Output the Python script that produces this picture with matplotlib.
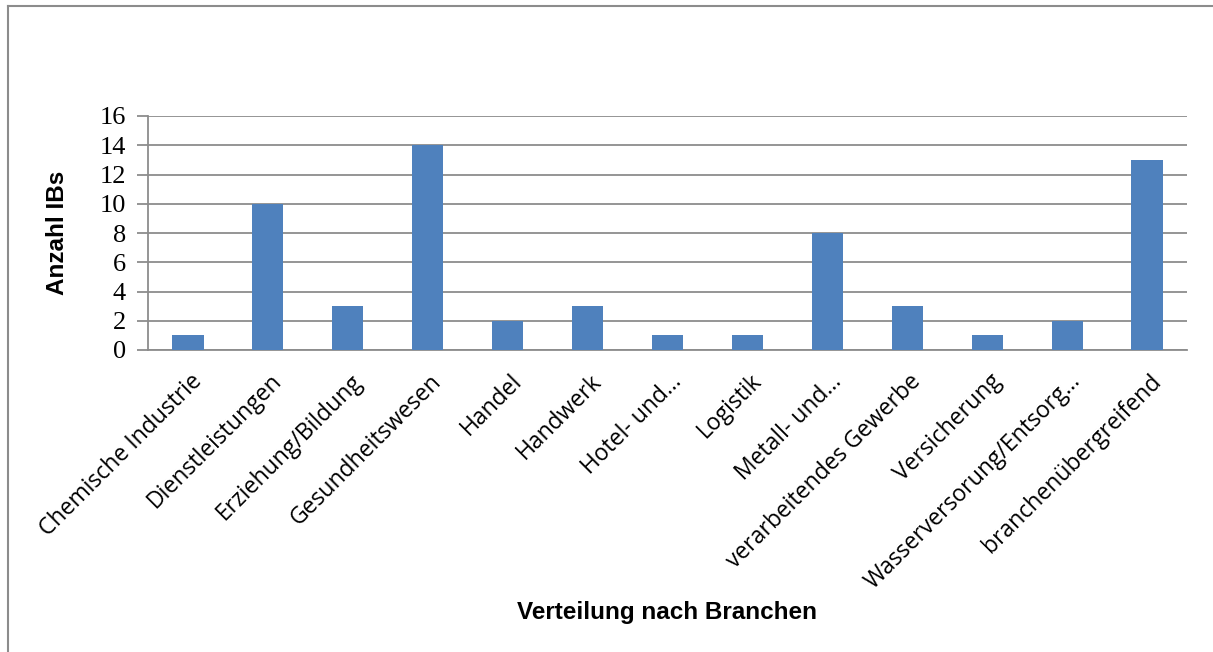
import numpy as np
import matplotlib.pyplot as plt
import matplotlib.transforms as mtransforms
from matplotlib.lines import Line2D

branchen = ['Chemische Industrie', 'Dienstleistungen', 'Erziehung/Bildung',
            'Gesundheitswesen', 'Handel', 'Handwerk', 'Hotel- und…',
            'Logistik', 'Metall- und…', 'verarbeitendes Gewerbe',
            'Versicherung', 'Wasserversorung/Entsorg…', 'branchenübergreifend']
anzahl = [1, 10, 3, 14, 2, 3, 1, 1, 8, 3, 1, 2, 13]
yticks = [0, 2, 4, 6, 8, 10, 12, 14, 16]

grid_col = '#8c8c8c'
bar_col = '#4f81bd'

fig = plt.figure(figsize=(12.13, 6.52), dpi=100)
ax = fig.add_axes([148/1213, 1 - 350/652, (1187-148)/1213, (350-116)/652])

x = np.arange(len(branchen))
ax.bar(x, anzahl, width=0.39, color=bar_col, zorder=3)

ax.set_xlim(-0.5, len(branchen) - 0.5)
ax.set_ylim(0, 16)
ax.set_yticks(yticks)
ax.set_yticklabels([str(v) for v in yticks], family='Liberation Serif', fontsize=19)
ax.yaxis.grid(True, color=grid_col, linewidth=1.3, zorder=0)
ax.tick_params(axis='y', length=8, width=1.3, color=grid_col, pad=8)
ax.tick_params(axis='x', length=0, pad=14)

for s in ['top', 'right']:
    ax.spines[s].set_visible(False)
for s in ['left', 'bottom']:
    ax.spines[s].set_color(grid_col)
    ax.spines[s].set_linewidth(1.3)

ax.set_xticks(x)
ax.set_xticklabels(branchen, rotation=45, ha='right', va='top',
                   rotation_mode='anchor', family='Open Sans', fontsize=16.5)
shift = mtransforms.ScaledTranslation(2/100, 0, fig.dpi_scale_trans)
for lab in ax.get_xticklabels():
    lab.set_transform(lab.get_transform() + shift)

ax.set_ylabel('Anzahl IBs', family='Liberation Sans', fontweight='bold', fontsize=17.5)
ax.yaxis.set_label_coords((57 - 148) / (1187 - 148), 0.5)
ax.yaxis.label.set_va('center')
fig.text(667/1213, 1 - 612/652, 'Verteilung nach Branchen', family='Liberation Sans',
         fontweight='bold', fontsize=17.5, ha='center', va='center')

# Rahmen links und oben
fig.add_artist(Line2D([8/1213, 8/1213], [0, 1 - 6/652], transform=fig.transFigure,
                      color=grid_col, linewidth=1.5))
fig.add_artist(Line2D([8/1213, 1], [1 - 6/652, 1 - 6/652], transform=fig.transFigure,
                      color=grid_col, linewidth=1.5))

fig.savefig('out.png', dpi=100)
